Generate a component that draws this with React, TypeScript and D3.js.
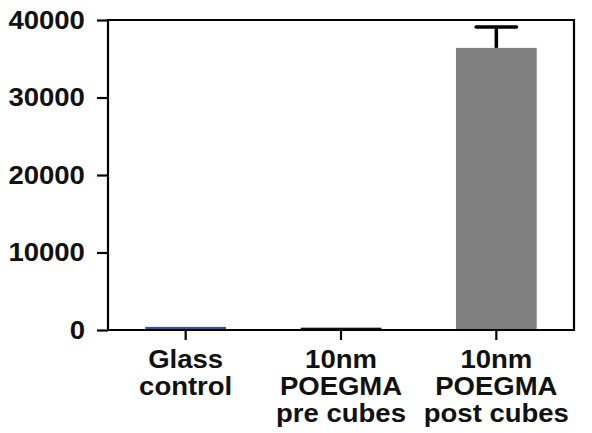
import { useRef, useEffect } from "react";
import * as d3 from "d3";

// categories (multi-line labels)
const categories = ["Glass control", "10nm POEGMA pre cubes", "10nm POEGMA post cubes"];
const labelLines = [["Glass", "control"], ["10nm", "POEGMA", "pre cubes"], ["10nm", "POEGMA", "post cubes"]];
const values = [400, 300, 36400];
const errors = [0, 0, 2700];
const barColors = ["#3b52a3", "#111111", "#808080"];
const yTicks = [0, 10000, 20000, 30000, 40000];

const App = () => {
  const svgRef = useRef<SVGSVGElement>(null);

  useEffect(() => {
    const svg = d3.select(svgRef.current);
    svg.selectAll("*").remove();

    const width = 592;
    const height = 433;
    const left = 108;
    const right = 574;
    const top = 20;
    const bottom = 330;
    const sx = 1.1; // labels are a bit wide in the original

    const x = d3.scaleBand().domain(categories).range([left, right]).paddingInner(0.48).paddingOuter(0.24);
    const y = d3.scaleLinear().domain([0, 40000]).range([bottom, top]);

    svg.attr("width", width).attr("height", height);
    const font = "'Liberation Sans', Arial, sans-serif";

    // bars
    svg
      .selectAll("rect.bar")
      .data(values)
      .enter()
      .append("rect")
      .attr("class", "bar")
      .attr("x", (d, i) => x(categories[i])!)
      .attr("width", x.bandwidth())
      .attr("y", (d) => y(d))
      .attr("height", (d) => bottom - y(d))
      .attr("fill", (d, i) => barColors[i]);

    // error bars
    values.forEach((v, i) => {
      if (!errors[i]) return;
      const cx = x(categories[i])! + x.bandwidth() / 2;
      const yt = y(v + errors[i]);
      svg.append("line").attr("x1", cx).attr("x2", cx).attr("y1", y(v)).attr("y2", yt)
        .attr("stroke", "#000").attr("stroke-width", 3.5);
      svg.append("line").attr("x1", cx - x.bandwidth() / 4).attr("x2", cx + x.bandwidth() / 4)
        .attr("y1", yt).attr("y2", yt).attr("stroke", "#000").attr("stroke-width", 3.5)
        .attr("stroke-linecap", "round");
    });

    // frame
    svg.append("path")
      .attr("d", `M${left},${bottom}V${top}H${right}V${bottom}Z`)
      .attr("fill", "none").attr("stroke", "#000").attr("stroke-width", 2.2);

    // y axis
    const yAxis = svg.append("g").attr("transform", `translate(${left},0)`)
      .call(d3.axisLeft(y).tickValues(yTicks).tickSize(11).tickSizeOuter(0).tickPadding(10).tickFormat(d3.format("d")));
    yAxis.select(".domain").remove();
    yAxis.selectAll("line").attr("stroke-width", 2.2);
    yAxis.selectAll("text").attr("font-size", 25).attr("font-weight", "bold").attr("font-family", font)
      .attr("fill", "#111").attr("transform", `scale(${sx},1)`);

    // x axis ticks
    const xAxis = svg.append("g").attr("transform", `translate(0,${bottom})`)
      .call(d3.axisBottom(x).tickSize(10).tickSizeOuter(0).tickFormat(() => ""));
    xAxis.select(".domain").remove();
    xAxis.selectAll("line").attr("stroke-width", 2.2);

    // x labels
    categories.forEach((c, i) => {
      const cx = x(c)! + x.bandwidth() / 2;
      const t = svg.append("text").attr("text-anchor", "middle").attr("font-size", 25)
        .attr("font-weight", "bold").attr("font-family", font).attr("fill", "#111")
        .attr("transform", `translate(${cx},0) scale(${sx},1)`);
      labelLines[i].forEach((line, j) => {
        t.append("tspan").attr("x", 0).attr("y", 368 + j * 27).text(line);
      });
    });
  }, []);

  return <svg ref={svgRef} style={{ position: "absolute", left: 0, top: 0 }}></svg>;
};

export default App;
